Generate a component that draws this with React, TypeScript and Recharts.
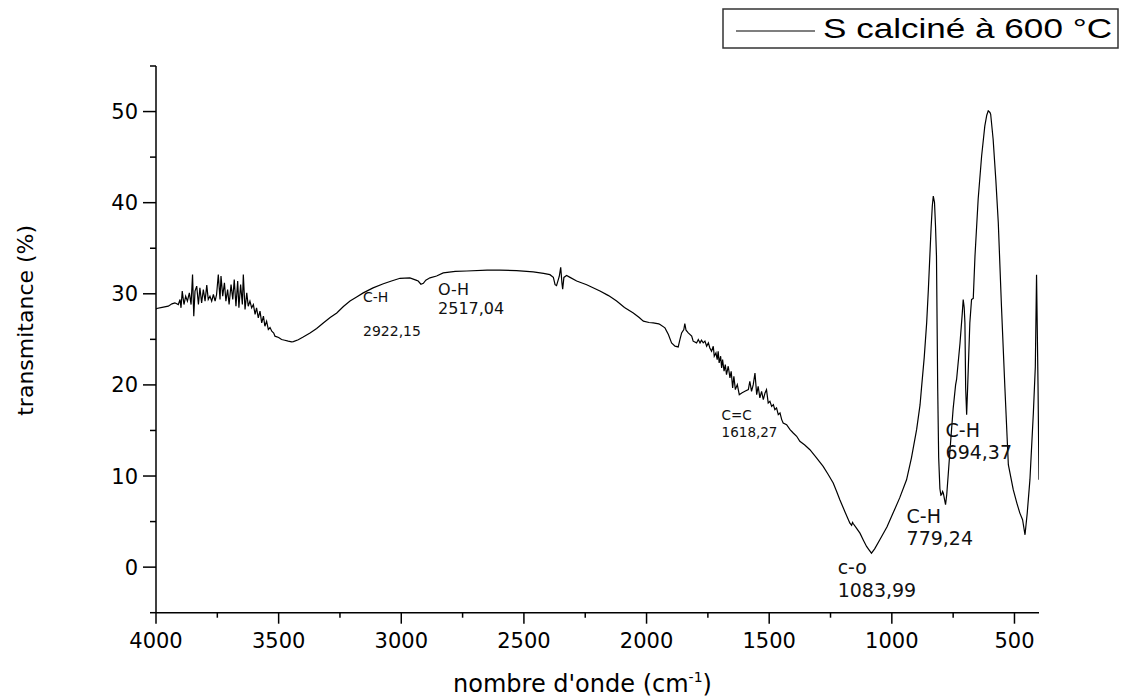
import React from 'react';
import { LineChart, Line, XAxis, YAxis, ReferenceDot, Legend } from 'recharts';

// FTIR spectrum: [wavenumber (cm-1), transmittance (%)]
const spectrum: [number, number][] = [
  [4000, 28.3], [3997, 28.39], [3975, 28.5], [3950, 28.64], [3935, 28.9], [3923, 29.01], [3909, 28.82],
  [3902, 29.37], [3898, 28.46], [3893, 30.29], [3886, 28.82], [3879, 29.74], [3872, 29.19], [3864, 30.11],
  [3857, 28.82], [3851, 32.12], [3846, 27.54], [3841, 30.29], [3834, 30.84], [3827, 28.82], [3821, 30.66],
  [3814, 29.01], [3807, 30.47], [3800, 29.19], [3793, 30.95], [3787, 29.37], [3780, 29.74], [3773, 29.19],
  [3766, 29.92], [3759, 29.19], [3753, 29.92], [3746, 32.12], [3739, 29.37], [3735, 31.94], [3728, 29.74],
  [3721, 31.21], [3715, 29.19], [3708, 30.47], [3702, 28.82], [3694, 31.02], [3687, 29.37], [3681, 31.57],
  [3674, 28.64], [3667, 31.39], [3662, 28.46], [3655, 31.02], [3648, 28.82], [3644, 32.12], [3637, 28.27],
  [3630, 30.11], [3624, 28.64], [3617, 29.19], [3610, 28.46], [3603, 28.82], [3596, 27.73], [3590, 28.46],
  [3583, 27.36], [3576, 28.09], [3569, 26.81], [3562, 27.54], [3556, 26.44], [3549, 26.99], [3542, 26.08],
  [3535, 26.3], [3528, 25.9], [3520, 25.7], [3515, 25.35], [3500, 25.2], [3488, 24.98], [3475, 24.9],
  [3461, 24.8], [3447, 24.72], [3440, 24.75], [3420, 24.95], [3400, 25.25], [3372, 25.7], [3345, 26.2],
  [3318, 26.8], [3290, 27.4], [3263, 27.9], [3236, 28.6], [3209, 29.2], [3182, 29.65], [3155, 30.1],
  [3115, 30.65], [3073, 31.1], [3040, 31.4], [3005, 31.7], [2965, 31.75], [2940, 31.5], [2931, 31.4],
  [2920, 31.05], [2910, 31.15], [2900, 31.5], [2883, 31.75], [2856, 31.95], [2829, 32.3], [2780, 32.45],
  [2733, 32.5], [2650, 32.6], [2598, 32.6], [2530, 32.55], [2462, 32.4], [2420, 32.25], [2394, 32.1],
  [2380, 31.8], [2373, 31.0], [2367, 30.9], [2356, 31.9], [2350, 32.9], [2345, 31.2], [2342, 30.5],
  [2337, 31.8], [2326, 32.0], [2312, 31.8], [2285, 31.4], [2244, 31.0], [2190, 30.3], [2155, 29.8],
  [2122, 29.2], [2090, 28.5], [2054, 27.9], [2030, 27.4], [2013, 27.0], [1990, 26.85], [1973, 26.8],
  [1950, 26.7], [1945, 26.63], [1925, 26.26], [1911, 25.53], [1898, 24.61], [1884, 24.25], [1871, 24.17],
  [1864, 24.98], [1857, 25.71], [1848, 26.08], [1844, 26.74], [1839, 26.0], [1830, 25.71], [1816, 25.35],
  [1810, 24.8], [1796, 24.61], [1789, 24.98], [1782, 24.61], [1776, 24.9], [1769, 24.61], [1762, 24.8],
  [1755, 24.25], [1748, 24.61], [1742, 24.06], [1735, 23.69], [1728, 24.25], [1724, 23.15], [1717, 23.51],
  [1712, 22.78], [1708, 23.69], [1704, 22.41], [1698, 23.15], [1694, 21.86], [1690, 22.78], [1684, 21.5],
  [1679, 22.23], [1674, 21.13], [1667, 22.05], [1660, 20.77], [1655, 21.5], [1649, 19.67], [1644, 20.95],
  [1638, 19.48], [1630, 20.03], [1622, 18.93], [1612, 19.12], [1599, 19.3], [1585, 19.48], [1579, 20.4],
  [1572, 19.3], [1565, 20.03], [1558, 21.31], [1551, 18.93], [1545, 19.85], [1538, 18.57], [1531, 19.3],
  [1524, 18.39], [1517, 19.12], [1511, 19.48], [1504, 18.02], [1497, 18.2], [1490, 17.65], [1483, 17.84],
  [1477, 17.29], [1470, 17.47], [1463, 16.74], [1456, 16.92], [1449, 16.19], [1443, 15.82], [1429, 15.64],
  [1415, 15.09], [1402, 14.72], [1388, 14.36], [1375, 13.81], [1355, 13.4], [1334, 12.89], [1307, 12.0],
  [1280, 11.06], [1260, 10.2], [1239, 9.23], [1225, 8.3], [1212, 7.4], [1190, 6.0], [1171, 4.83],
  [1164, 4.6], [1160, 4.9], [1157, 4.76], [1145, 4.3], [1130, 3.73], [1115, 2.9], [1103, 2.27],
  [1093, 1.9], [1083, 1.53], [1070, 2.0], [1049, 3.0], [1020, 4.4], [995, 5.93], [968, 7.6],
  [940, 9.59], [920, 12.0], [899, 15.09], [885, 17.8], [879, 19.67], [868, 23.0], [858, 26.81],
  [851, 30.5], [845, 34.14], [840, 37.2], [835, 39.63], [831, 40.73], [826, 40.0], [822, 37.5],
  [818, 34.14], [813, 19.67], [809, 12.0], [804, 8.6], [800, 7.9], [797, 7.95], [793, 8.3],
  [790, 8.13], [785, 7.4], [781, 6.85], [776, 8.0], [770, 10.2], [763, 12.8], [750, 17.4],
  [740, 20.0], [736, 20.6], [722, 24.6], [713, 27.8], [709, 29.37], [705, 28.5], [702, 26.8],
  [699, 19.67], [695, 16.74], [691, 19.67], [682, 26.8], [675, 29.37], [668, 29.5], [661, 34.14],
  [648, 40.4], [634, 45.1], [621, 48.4], [613, 49.6], [607, 50.07], [600, 49.9], [597, 49.7],
  [587, 46.96], [576, 42.5], [566, 37.8], [553, 28.6], [539, 19.67], [525, 11.24], [505, 8.5],
  [490, 7.0], [478, 5.93], [467, 5.2], [457, 3.55], [448, 5.93], [437, 9.6], [423, 16.92],
  [415, 22.0], [410, 32.1], [404, 20.0], [400, 9.6],
];

const seriesName = 'S calciné à 600 °C';
const xTicks = [4000, 3750, 3500, 3250, 3000, 2750, 2500, 2250, 2000, 1750, 1500, 1250, 1000, 750, 500];
const yTicks = [-5, 0, 5, 10, 15, 20, 25, 30, 35, 40, 45, 50, 55];
const xDomain = [400, 4000];
const yDomain = [-5, 55];

// Band annotations: label, value, anchor (wavenumber, transmittance)
const annoTitle = ['C-H', 'O-H', 'C=C', 'c-o', 'C-H', 'C-H'];
const annoValue = ['2922,15', '2517,04', '1618,27', '1083,99', '779,24', '694,37'];
const annoX = [3156, 2850, 1694, 1221, 940, 781];
const annoY = [29.1, 29.9, 16.1, -0.77, 4.84, 14.3];
const annoFont = [14, 16, 13.5, 19, 19, 19];
const annoGap = [33.7, 19, 16.5, 22.4, 22.4, 22];

const data = spectrum.map(([x, t]) => ({ x, t }));
const FONT = 'DejaVu Sans';

const XTick = (props: any) => {
  const { x, y, payload } = props;
  const major = payload.value % 500 === 0;
  return (
    <g>
      <line x1={x} x2={x} y1={y} y2={y + (major ? 11 : 5)} stroke="#000" strokeWidth={1.5} />
      {major && (
        <text x={x} y={y + 35.5} textAnchor="middle" fontSize={21} fontFamily={FONT} fill="#000">
          {payload.value}
        </text>
      )}
    </g>
  );
};

const YTick = (props: any) => {
  const { x, y, payload } = props;
  const major = payload.value % 10 === 0;
  return (
    <g>
      <line x1={x - (major ? 13 : 6)} x2={x} y1={y} y2={y} stroke="#000" strokeWidth={1.5} />
      {major && (
        <text x={x - 18} y={y + 7.5} textAnchor="end" fontSize={21} fontFamily={FONT} fill="#000">
          {payload.value}
        </text>
      )}
    </g>
  );
};

const LegendBox = (props: any) => {
  const name = props.payload && props.payload[0] ? props.payload[0].value : seriesName;
  return (
    <svg width={400} height={44} style={{ display: 'block' }}>
      <rect x={1} y={1} width={395} height={39} fill="#fff" stroke="#333" strokeWidth={1.5} />
      <line x1={14} x2={93} y1={23} y2={23} stroke="#000" strokeWidth={1.2} />
      <text
        transform="translate(101,29.5) scale(1.3,1)"
        fontSize={27}
        fontFamily="Liberation Sans, Arial"
        fill="#000"
      >
        {name}
      </text>
    </svg>
  );
};

export default function App() {
  return (
    <div style={{ position: 'absolute', left: 0, top: 0 }}>
      <LineChart
        width={1121}
        height={699}
        data={data}
        margin={{ top: 66, right: 82, left: 0, bottom: 0 }}
      >
        <XAxis
          dataKey="x"
          type="number"
          domain={xDomain}
          reversed
          allowDataOverflow
          ticks={xTicks}
          interval={0}
          height={86.3}
          tickSize={0}
          tickMargin={0}
          tickLine={false}
          tick={<XTick />}
          axisLine={{ stroke: '#000', strokeWidth: 1.5 }}
          label={(p: any) => {
            const vb = p.viewBox;
            const cx = vb.x + vb.width / 2 - 15;
            return (
              <text x={cx} y={vb.y + 79} textAnchor="middle" fontSize={24} fontFamily={FONT} fill="#000">
                nombre d'onde (cm
                <tspan fontSize={14} dy={-10}>-1</tspan>
                <tspan dy={10}>)</tspan>
              </text>
            );
          }}
        />
        <YAxis
          type="number"
          domain={yDomain}
          allowDataOverflow
          ticks={yTicks}
          interval={0}
          width={156}
          tickSize={0}
          tickMargin={0}
          tickLine={false}
          tick={<YTick />}
          axisLine={{ stroke: '#000', strokeWidth: 1.5 }}
          label={(p: any) => {
            const vb = p.viewBox;
            const cy = vb.y + vb.height / 2 - 19;
            const cx = vb.x + 33;
            return (
              <text
                x={cx}
                y={cy}
                transform={`rotate(-90, ${cx}, ${cy})`}
                textAnchor="middle"
                fontSize={22}
                fontFamily={FONT}
                fill="#000"
              >
                transmitance (%)
              </text>
            );
          }}
        />
        <Legend
          layout="horizontal"
          verticalAlign="middle"
          align="center"
          wrapperStyle={{ position: 'absolute', left: 722, top: 8, width: 400, height: 44 }}
          content={<LegendBox />}
        />
        <Line
          type="linear"
          dataKey="t"
          name={seriesName}
          stroke="#000"
          strokeWidth={1.2}
          dot={false}
          activeDot={false}
          isAnimationActive={false}
        />
        {annoTitle.map((title, i) => (
          <ReferenceDot
            key={i}
            x={annoX[i]}
            y={annoY[i]}
            r={0}
            fill="none"
            stroke="none"
            label={(p: any) => {
              const vb = p.viewBox;
              return (
                <g>
                  <text x={vb.x} y={vb.y} fontSize={annoFont[i]} fontFamily={FONT} fill="#111">
                    {title}
                  </text>
                  <text x={vb.x} y={vb.y + annoGap[i]} fontSize={annoFont[i]} fontFamily={FONT} fill="#111">
                    {annoValue[i]}
                  </text>
                </g>
              );
            }}
          />
        ))}
      </LineChart>
    </div>
  );
}
